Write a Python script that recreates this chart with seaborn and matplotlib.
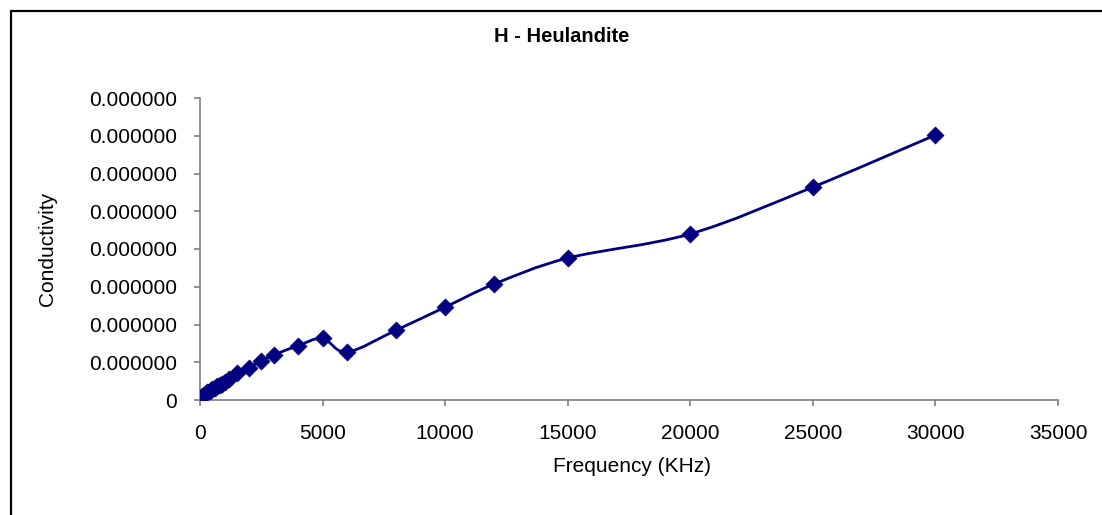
import numpy as np
import pandas as pd
import matplotlib
matplotlib.use("Agg")
import matplotlib.pyplot as plt
from matplotlib.path import Path
from matplotlib.patches import PathPatch
from matplotlib.lines import Line2D
import matplotlib.ticker as mticker
import seaborn as sns

# ---- data ----
title = "H - Heulandite"
x_label = "Frequency (KHz)"
y_label = "Conductivity"
frequency = [100, 200, 300, 400, 500, 600, 700, 800, 900, 1000, 1200, 1500,
             2000, 2500, 3000, 4000, 5000, 6000, 8000, 10000, 12000, 15000,
             20000, 25000, 30000]
conductivity = [0.50e-8, 0.75e-8, 1.00e-8, 1.20e-8, 1.42e-8, 1.62e-8, 1.82e-8,
                2.00e-8, 2.18e-8, 2.36e-8, 2.75e-8, 3.55e-8,
                4.30e-8, 5.20e-8, 5.95e-8, 7.20e-8, 8.15e-8, 6.35e-8, 9.25e-8,
                12.30e-8, 15.35e-8, 18.80e-8, 22.00e-8, 28.20e-8, 35.10e-8]
x_ticks = [0, 5000, 10000, 15000, 20000, 25000, 30000, 35000]
y_ticks = [0, 5e-8, 10e-8, 15e-8, 20e-8, 25e-8, 30e-8, 35e-8, 40e-8]

df = pd.DataFrame({"f": frequency, "c": conductivity})

W, H, DPI = 1102, 515, 100
sns.set_theme(style="white")
plt.rcParams["font.family"] = ["Liberation Sans", "DejaVu Sans"]
plt.rcParams["text.color"] = "black"

fig = plt.figure(figsize=(W / DPI, H / DPI), dpi=DPI)
ax = fig.add_axes([200 / W, 1 - 400 / H, (1058 - 200) / W, (400 - 98) / H])

navy = "#000080"
ax.set_xlim(0, 35000)
ax.set_ylim(0, 40e-8)

# smoothed line (Excel-style Catmull-Rom Bezier in display space)
fig.canvas.draw()
pts = ax.transData.transform(np.column_stack([df["f"], df["c"]]))
n = len(pts)
verts = [pts[0]]
codes = [Path.MOVETO]
for i in range(n - 1):
    p0 = pts[i - 1] if i > 0 else pts[i]
    p1 = pts[i]
    p2 = pts[i + 1]
    p3 = pts[i + 2] if i + 2 < n else pts[i + 1]
    c1 = p1 + (p2 - p0) / 6.0
    c2 = p2 - (p3 - p1) / 6.0
    verts += [c1, c2, p2]
    codes += [Path.CURVE4] * 3
verts_data = ax.transData.inverted().transform(np.array(verts))
ax.add_patch(PathPatch(Path(verts_data, codes), facecolor="none",
                       edgecolor=navy, lw=2.0, zorder=2))

sns.scatterplot(data=df, x="f", y="c", marker="D", s=75, color=navy,
                edgecolor=navy, linewidth=0.5, ax=ax, zorder=3, legend=False)

ax.set_xlim(0, 35000)
ax.set_ylim(0, 40e-8)
ax.set_xticks(x_ticks)
ax.set_yticks(y_ticks)
ax.xaxis.set_major_formatter(mticker.FuncFormatter(lambda v, p: f"{v:.0f}"))
ax.yaxis.set_major_formatter(mticker.FuncFormatter(
    lambda v, p: "0" if v == 0 else f"{v:.6f}"))
ax.tick_params(axis="both", labelsize=15, colors="#808080", labelcolor="black",
               length=4.3, width=1.2, direction="out", bottom=True, left=True)
ax.tick_params(axis="x", pad=13)
ax.tick_params(axis="y", pad=12)
ax.set_xlabel("")
ax.set_ylabel("")
for side in ["top", "right"]:
    ax.spines[side].set_visible(False)
for side in ["left", "bottom"]:
    ax.spines[side].set_color("#808080")
    ax.spines[side].set_linewidth(1.2)
ax.grid(False)

fig.text(562 / W, 1 - 37 / H, title, ha="center", va="center",
         fontsize=14.5, fontweight="bold", color="black")
fig.text(632 / W, 1 - 466 / H, x_label, ha="center", va="center",
         fontsize=15, color="black")
fig.text(48 / W, 1 - 249 / H, y_label, ha="center", va="center",
         fontsize=15, rotation=90, color="black")

# chart-area border (left and top edges visible)
fig.add_artist(Line2D([10.5 / W, 10.5 / W], [1 - 10.5 / H, -0.05],
                      transform=fig.transFigure, color="black", lw=1.6))
fig.add_artist(Line2D([10.5 / W, 1.05], [1 - 10.5 / H, 1 - 10.5 / H],
                      transform=fig.transFigure, color="black", lw=1.6))

fig.savefig("out.png", dpi=DPI)
